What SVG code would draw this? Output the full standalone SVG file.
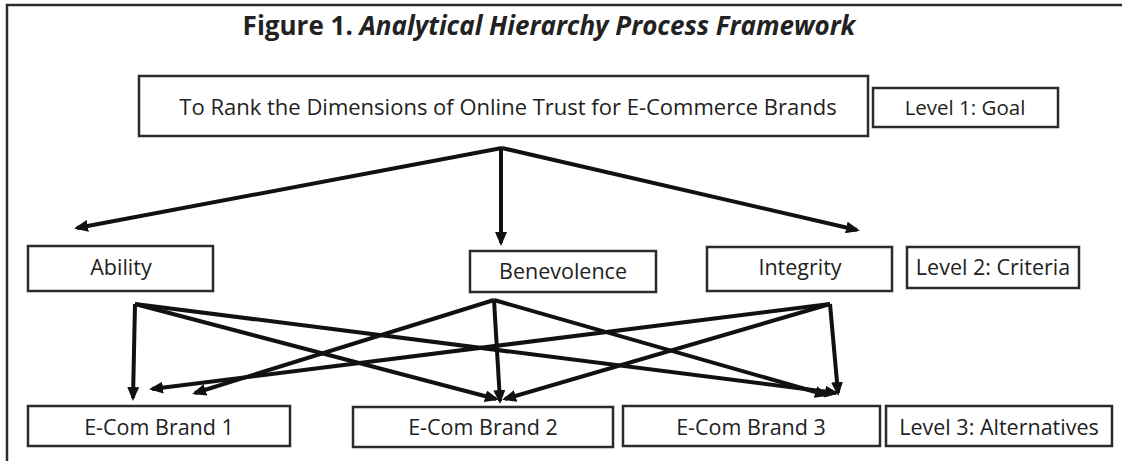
<svg xmlns="http://www.w3.org/2000/svg" width="1122" height="461" viewBox="0 0 1122 461">
  <defs>
    <style>
      .frame { fill: none; stroke: #2b2b2b; stroke-width: 2.5; }
      .box { fill: #ffffff; stroke: #2b2b2b; stroke-width: 2.5; }
      .label { font-family: "Open Sans", "Noto Sans", sans-serif; font-size: 21.5px; fill: #222222; text-anchor: middle; }
      .goal-text { font-size: 22px; }
      .small-text { font-size: 20.5px; }
      .title { font-family: "Open Sans", "Noto Sans", sans-serif; font-size: 26px; font-weight: bold; fill: #222222; text-anchor: middle; }
      .edge { fill: none; stroke: #111111; stroke-width: 4; marker-end: url(#head); }
    </style>
    <marker id="head" viewBox="0 0 14 12" markerWidth="14" markerHeight="12" refX="11" refY="6" markerUnits="userSpaceOnUse" orient="auto">
      <path d="M0,0 L14,6 L0,12 Z" fill="#111111"/>
    </marker>
  </defs>

  <!-- outer frame: top and left rules only -->
  <path class="frame" d="M7,461 L7,5 L1122,5"/>

  <text class="title" x="549" y="35">Figure 1. <tspan font-style="italic">Analytical Hierarchy Process Framework</tspan></text>

  <!-- Level 1 -->
  <g id="goal">
    <rect class="box" x="139" y="76" width="729" height="60"/>
    <text class="label goal-text" x="508" y="115">To Rank the Dimensions of Online Trust for E-Commerce Brands</text>
  </g>
  <g id="level1">
    <rect class="box" x="873" y="88" width="185" height="39"/>
    <text class="label small-text" x="965" y="115">Level 1: Goal</text>
  </g>

  <!-- Level 2 -->
  <g id="ability">
    <rect class="box" x="28" y="246" width="185" height="45"/>
    <text class="label" x="121" y="275">Ability</text>
  </g>
  <g id="benevolence">
    <rect class="box" x="470" y="251" width="186" height="41"/>
    <text class="label" x="563" y="279">Benevolence</text>
  </g>
  <g id="integrity">
    <rect class="box" x="707" y="247" width="185" height="44"/>
    <text class="label" x="800" y="275">Integrity</text>
  </g>
  <g id="level2">
    <rect class="box" x="907" y="247" width="172" height="41"/>
    <text class="label" x="993" y="275">Level 2: Criteria</text>
  </g>

  <!-- Level 3 -->
  <g id="brand1">
    <rect class="box" x="28" y="406" width="262" height="40"/>
    <text class="label" x="159" y="435">E-Com Brand 1</text>
  </g>
  <g id="brand2">
    <rect class="box" x="353" y="407" width="260" height="40"/>
    <text class="label" x="483" y="435">E-Com Brand 2</text>
  </g>
  <g id="brand3">
    <rect class="box" x="623" y="406" width="257" height="40"/>
    <text class="label" x="751" y="435">E-Com Brand 3</text>
  </g>
  <g id="level3">
    <rect class="box" x="886" y="406" width="226" height="40"/>
    <text class="label" x="999" y="435">Level 3: Alternatives</text>
  </g>

  <!-- connectors -->
  <g id="connectors">
    <line class="edge" x1="502" y1="148" x2="77" y2="228"/>
    <line class="edge" x1="501" y1="148" x2="501" y2="243"/>
    <line class="edge" x1="502" y1="148" x2="857" y2="230"/>

    <line class="edge" x1="135" y1="304" x2="133" y2="398"/>
    <line class="edge" x1="135" y1="304" x2="496" y2="399"/>
    <line class="edge" x1="135" y1="304" x2="836" y2="393"/>

    <line class="edge" x1="494" y1="300" x2="195" y2="393"/>
    <line class="edge" x1="494" y1="300" x2="500" y2="401"/>
    <line class="edge" x1="494" y1="300" x2="826" y2="395"/>

    <line class="edge" x1="830" y1="304" x2="152" y2="389"/>
    <line class="edge" x1="830" y1="304" x2="505" y2="399"/>
    <line class="edge" x1="830" y1="304" x2="838" y2="393"/>
  </g>
</svg>
